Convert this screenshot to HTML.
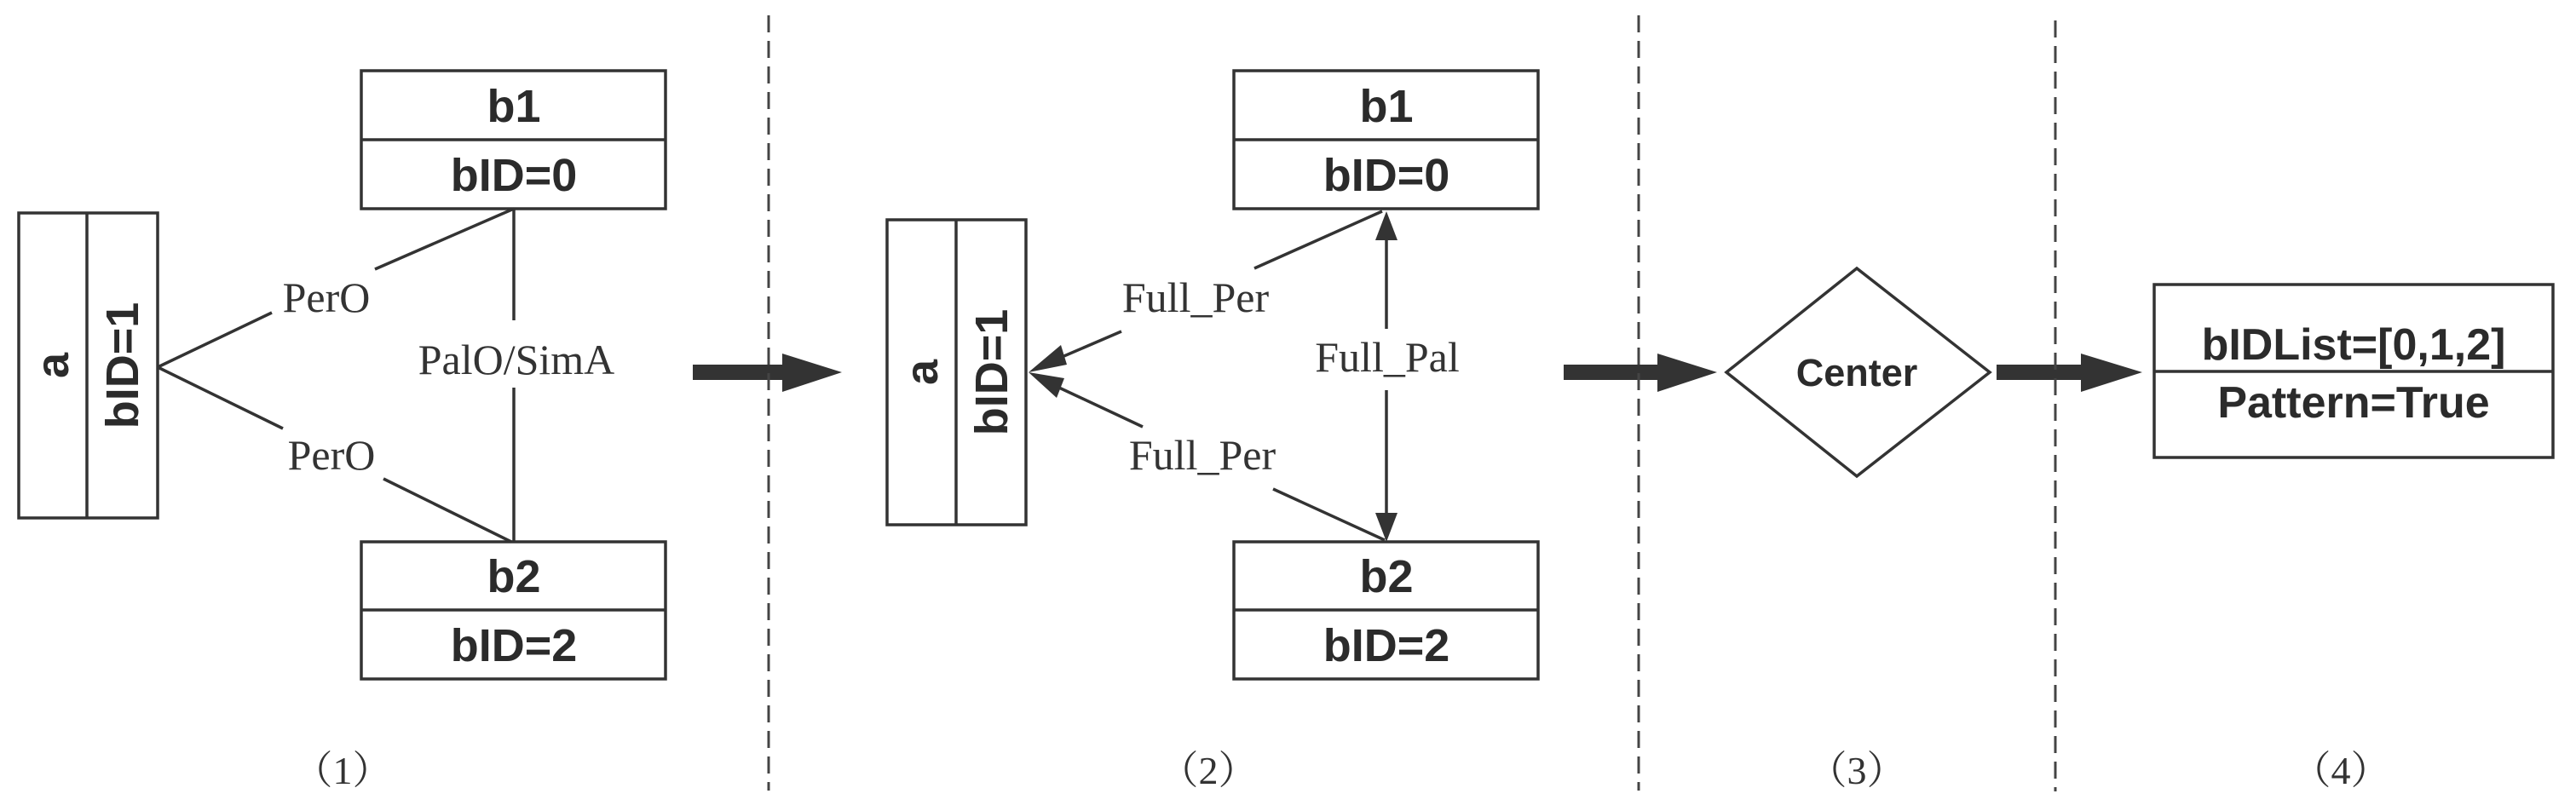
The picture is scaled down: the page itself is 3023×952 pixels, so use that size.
<!DOCTYPE html>
<html><head><meta charset="utf-8"><style>
html,body{margin:0;padding:0;background:#fff;}
svg{display:block;}
.b{font-family:"Liberation Sans",sans-serif;font-weight:bold;fill:#2b2b2b;}
.s{font-family:"Liberation Serif",serif;fill:#333;}
.c{font-family:"Liberation Serif","Noto Serif CJK SC",serif;fill:#333;}
</style></head><body>
<svg width="3023" height="952" viewBox="0 0 3023 952" xmlns="http://www.w3.org/2000/svg">
<g stroke="#333" stroke-width="3.5" fill="none">
<!-- panel 1 -->
<rect x="424" y="83" width="357" height="162"/><line x1="424" y1="164" x2="781" y2="164"/>
<rect x="424" y="636" width="357" height="161"/><line x1="424" y1="716" x2="781" y2="716"/>
<rect x="22" y="250" width="163" height="358"/><line x1="102" y1="250" x2="102" y2="608"/>
<line x1="185" y1="431" x2="319" y2="367"/><line x1="440" y1="316" x2="603" y2="245"/>
<line x1="185" y1="431" x2="332" y2="503"/><line x1="450" y1="562" x2="600" y2="636"/>
<line x1="603" y1="245" x2="603" y2="376"/><line x1="603" y1="455" x2="603" y2="636"/>
<!-- panel 2 -->
<rect x="1448" y="83" width="357" height="162"/><line x1="1448" y1="164" x2="1805" y2="164"/>
<rect x="1448" y="636" width="357" height="161"/><line x1="1448" y1="716" x2="1805" y2="716"/>
<rect x="1041" y="258" width="163" height="358"/><line x1="1122" y1="258" x2="1122" y2="616"/>
<line x1="1230" y1="426" x2="1316" y2="389"/><line x1="1472" y1="315" x2="1622" y2="248"/>
<line x1="1230" y1="449" x2="1341" y2="501"/><line x1="1494" y1="574" x2="1625" y2="634"/>
<line x1="1627" y1="275" x2="1627" y2="386"/><line x1="1627" y1="458" x2="1627" y2="606"/>
<!-- diamond -->
<polygon points="2026,437 2179,315 2335,437 2179,559"/>
<!-- box 4 -->
<rect x="2528" y="334" width="468" height="203"/><line x1="2528" y1="436" x2="2996" y2="436"/>
</g>
<g fill="#333">
<polygon points="1207,437 1245,405 1252,428"/>
<polygon points="1207,437 1240,467 1249,444"/>
<polygon points="1627,248 1614,282 1640,282"/>
<polygon points="1627,636 1614,602 1640,602"/>
<rect x="813" y="428" width="110" height="18"/><polygon points="918,415 988,437 918,460"/>
<rect x="1835" y="428" width="112" height="18"/><polygon points="1945,415 2015,437 1945,460"/>
<rect x="2343" y="428" width="104" height="18"/><polygon points="2442,415 2514,437 2442,460"/>
</g>
<g stroke="#444" stroke-width="3" stroke-dasharray="20,10">
<line x1="902" y1="18" x2="902" y2="928"/>
<line x1="1923" y1="18" x2="1923" y2="928"/>
<line x1="2412" y1="24" x2="2412" y2="929"/>
</g>
<g class="b" font-size="54" text-anchor="middle">
<text x="603" y="143">b1</text><text x="603" y="224">bID=0</text>
<text x="603" y="695">b2</text><text x="603" y="776">bID=2</text>
<text x="1627" y="143">b1</text><text x="1627" y="224">bID=0</text>
<text x="1627" y="695">b2</text><text x="1627" y="776">bID=2</text>
<text transform="translate(80,429) rotate(-90)">a</text>
<text transform="translate(162,429) rotate(-90)">bID=1</text>
<text transform="translate(1100,437) rotate(-90)">a</text>
<text transform="translate(1182,437) rotate(-90)">bID=1</text>
<text x="2762" y="422" font-size="52">bIDList=[0,1,2]</text>
<text x="2762" y="490" font-size="52">Pattern=True</text>
<text x="2179" y="453" font-size="45">Center</text>
</g>
<g class="s" font-size="50" text-anchor="middle">
<text x="383" y="366">PerO</text>
<text x="389" y="551">PerO</text>
<text x="606" y="439">PalO/SimA</text>
<text x="1403" y="366">Full_Per</text>
<text x="1411" y="551">Full_Per</text>
<text x="1628" y="436">Full_Pal</text>
</g>
<g class="c" font-size="46" text-anchor="middle">
<text x="402" y="920">（1）</text>
<text x="1418" y="920">（2）</text>
<text x="2179" y="920">（3）</text>
<text x="2747" y="920">（4）</text>
</g>
</svg>
</body></html>
